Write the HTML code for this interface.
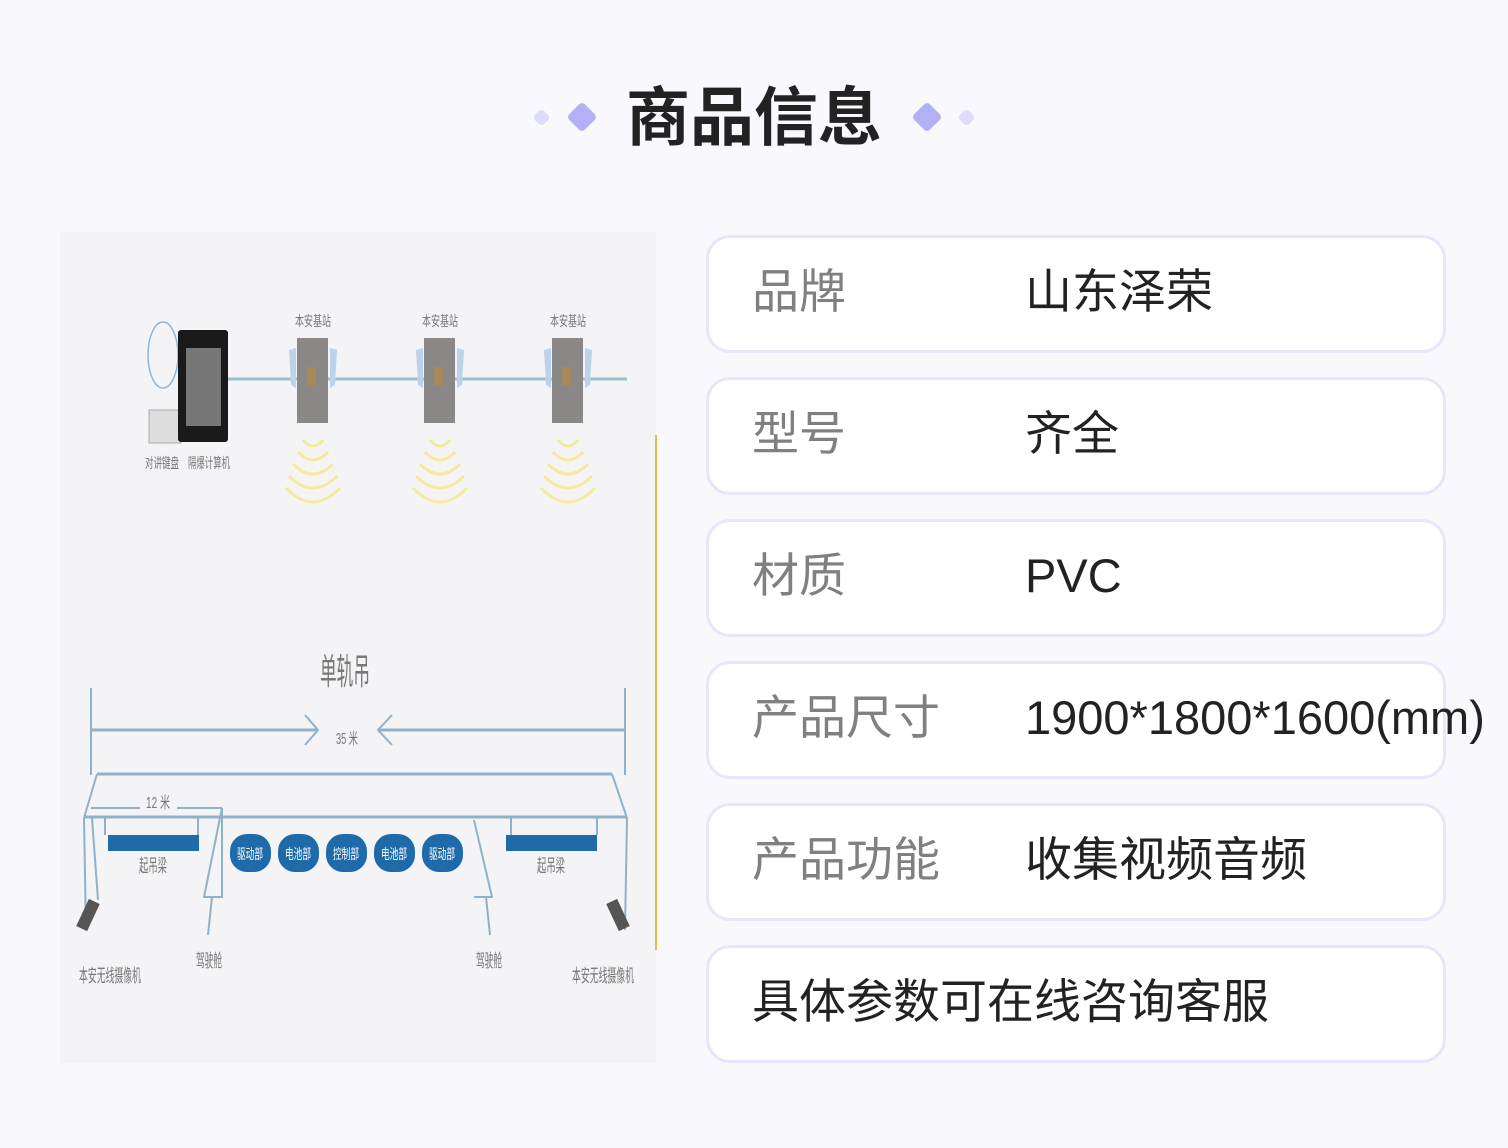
<!DOCTYPE html>
<html><head><meta charset="utf-8"><style>
*{margin:0;padding:0;box-sizing:border-box}
body{width:1508px;height:1148px;background:#f8f8fd;position:relative;overflow:hidden;font-family:"Liberation Sans","Noto Sans CJK SC",sans-serif}
.title{position:absolute;left:0;width:1508px;top:78px;text-align:center;font-size:64px;font-weight:bold;color:#222;letter-spacing:0px;line-height:80px}
.d{position:absolute;transform:rotate(45deg);border-radius:4px}
.card{position:absolute;left:706px;width:740px;height:118px;background:#fff;border:3px solid #e7e6fb;border-radius:24px}
.l{position:absolute;left:43px;top:26px;font-size:47px;color:#808080;line-height:56px;white-space:nowrap}
.v{position:absolute;left:316px;top:26px;font-size:47px;color:#222;line-height:56px;white-space:nowrap}
</style></head><body>
<div class="title">商品信息</div>
<div class="d" style="left:535px;top:111px;width:13px;height:13px;background:#dedcfb"></div>
<div class="d" style="left:571px;top:106px;width:22px;height:22px;background:#b3b1f6"></div>
<div class="d" style="left:916px;top:106px;width:22px;height:22px;background:#b3b1f6"></div>
<div class="d" style="left:960px;top:111px;width:13px;height:13px;background:#dedcfb"></div>

<svg style="position:absolute;left:0;top:0" width="1508" height="1148">
<rect x="60" y="232" width="596" height="831" fill="#f4f4f6"/>
<line x1="656" y1="435" x2="656" y2="950" stroke="#e8b84a" stroke-width="2"/>
<ellipse cx="163" cy="355" rx="15" ry="33" fill="none" stroke="#8fb6d8" stroke-width="1.5"/>
<rect x="149" y="410" width="32" height="33" fill="#ddd" stroke="#aaa"/>
<rect x="178" y="330" width="50" height="112" fill="#1a1a1a" rx="3"/>
<rect x="186" y="348" width="35" height="78" fill="#777"/>
<line x1="228" y1="379" x2="627" y2="379" stroke="#9cc0cc" stroke-width="3"/>
<g font-size="14" fill="#777" text-anchor="middle" lengthAdjust="spacingAndGlyphs">
<text x="162" y="468" textLength="34" lengthAdjust="spacingAndGlyphs">对讲键盘</text><text x="209" y="468" textLength="42" lengthAdjust="spacingAndGlyphs">隔爆计算机</text>
<text x="313" y="326" textLength="36" lengthAdjust="spacingAndGlyphs">本安基站</text><text x="440" y="326" textLength="36" lengthAdjust="spacingAndGlyphs">本安基站</text><text x="568" y="326" textLength="36" lengthAdjust="spacingAndGlyphs">本安基站</text>
</g>
<g id="bs">
<rect x="297" y="338" width="31" height="85" fill="#8a8886"/>
<rect x="307" y="367" width="9" height="18" fill="#a88a5a"/>
<polygon points="289,350 296,348 296,388 291,385" fill="#bcd2ea"/>
<polygon points="330,348 337,350 335,385 330,388" fill="#bcd2ea"/>
<g fill="none" stroke="#f2ea9c" stroke-width="3">
<path d="M303 440 Q313 452 323 440"/><path d="M298 452 Q313 468 328 452"/><path d="M293 464 Q313 484 333 464"/><path d="M289 476 Q313 500 337 476"/><path d="M286 488 Q313 516 340 488"/>
</g></g>
<use href="#bs" x="127"/><use href="#bs" x="255"/>
<text x="345" y="684" font-size="36" fill="#777" text-anchor="middle" textLength="50" lengthAdjust="spacingAndGlyphs">单轨吊</text>
<g stroke="#8fb2c8" stroke-width="2" fill="none">
<line x1="91" y1="688" x2="91" y2="775"/><line x1="625" y1="688" x2="625" y2="775"/>
<line x1="91" y1="730" x2="318" y2="730" stroke-width="3"/><line x1="378" y1="730" x2="625" y2="730" stroke-width="3"/>
<path d="M305 715 L318 730 L305 745"/><path d="M392 715 L378 730 L392 745"/>
<line x1="97" y1="774" x2="612" y2="774" stroke-width="3"/>
<path d="M97 774 L84 818 M612 774 L627 818"/>
<line x1="84" y1="817" x2="627" y2="817" stroke-width="3"/>
<line x1="91" y1="808" x2="140" y2="808"/><line x1="177" y1="808" x2="222" y2="808"/>
<path d="M222 808 L204 897 L222 897 Z"/><path d="M474 820 L492 897 L474 897"/>
<path d="M84 818 L86 930 M92 818 L98 900 M627 818 L625 930"/>
<path d="M212 897 L208 935 M486 897 L490 935"/>
<line x1="105" y1="817" x2="105" y2="835"/><line x1="198" y1="817" x2="198" y2="835"/>
<line x1="511" y1="817" x2="511" y2="835"/><line x1="597" y1="817" x2="597" y2="835"/>
</g>
<text x="158" y="808" font-size="16" fill="#777" text-anchor="middle" textLength="24" lengthAdjust="spacingAndGlyphs">12 米</text>
<text x="347" y="744" font-size="16" fill="#777" text-anchor="middle" textLength="22" lengthAdjust="spacingAndGlyphs">35 米</text>
<rect x="108" y="835" width="91" height="16" fill="#1f6aa8"/>
<rect x="506" y="835" width="91" height="16" fill="#1f6aa8"/>
<g fill="#1f6aa8">
<rect x="230" y="834" width="41" height="38" rx="17"/><rect x="278" y="834" width="41" height="38" rx="17"/><rect x="326" y="834" width="41" height="38" rx="17"/><rect x="374" y="834" width="41" height="38" rx="17"/><rect x="422" y="834" width="41" height="38" rx="17"/>
</g>
<g font-size="14" fill="#fff" text-anchor="middle">
<text x="250" y="859" textLength="26" lengthAdjust="spacingAndGlyphs">驱动部</text><text x="298" y="859" textLength="26" lengthAdjust="spacingAndGlyphs">电池部</text><text x="346" y="859" textLength="26" lengthAdjust="spacingAndGlyphs">控制部</text><text x="394" y="859" textLength="26" lengthAdjust="spacingAndGlyphs">电池部</text><text x="442" y="859" textLength="26" lengthAdjust="spacingAndGlyphs">驱动部</text>
</g>
<g font-size="18" fill="#777" text-anchor="middle">
<text x="153" y="872" textLength="28" lengthAdjust="spacingAndGlyphs">起吊梁</text><text x="551" y="872" textLength="28" lengthAdjust="spacingAndGlyphs">起吊梁</text>
<text x="209" y="967" textLength="26" lengthAdjust="spacingAndGlyphs">驾驶舱</text><text x="489" y="967" textLength="26" lengthAdjust="spacingAndGlyphs">驾驶舱</text>
<text x="110" y="982" textLength="62" lengthAdjust="spacingAndGlyphs">本安无线摄像机</text><text x="603" y="982" textLength="62" lengthAdjust="spacingAndGlyphs">本安无线摄像机</text>
</g>
<rect x="82" y="900" width="12" height="30" fill="#555" transform="rotate(25 88 915)"/>
<rect x="612" y="900" width="12" height="30" fill="#555" transform="rotate(-25 618 915)"/>
</svg>

<div class="card" style="top:235px"><div class="l">品牌</div><div class="v">山东泽荣</div></div>
<div class="card" style="top:377px"><div class="l">型号</div><div class="v">齐全</div></div>
<div class="card" style="top:519px"><div class="l">材质</div><div class="v">PVC</div></div>
<div class="card" style="top:661px"><div class="l">产品尺寸</div><div class="v">1900*1800*1600(mm)</div></div>
<div class="card" style="top:803px"><div class="l">产品功能</div><div class="v">收集视频音频</div></div>
<div class="card" style="top:945px"><div class="l" style="color:#222">具体参数可在线咨询客服</div></div>
</body></html>
